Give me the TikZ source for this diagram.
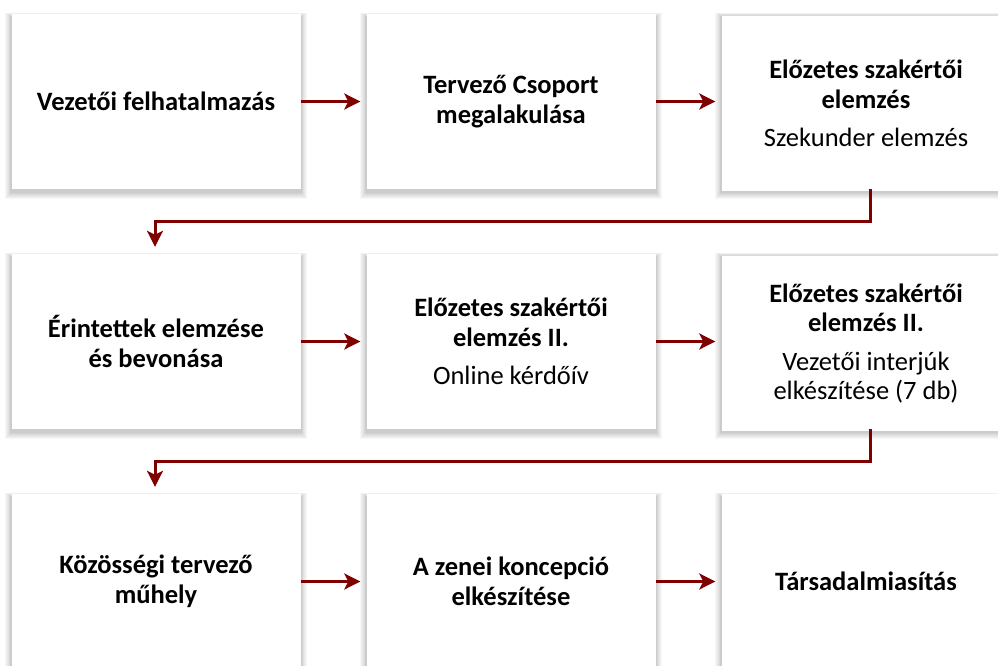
\documentclass[tikz,border=0pt]{standalone}
\usepackage{fontspec}
\setmainfont{Carlito}
\usetikzlibrary{arrows.meta}
\definecolor{arrowred}{RGB}{128,0,0}
\tikzset{
  x=1pt, y=-1pt,
  boxstyle/.style={minimum width=289pt, minimum height=175pt, fill=white, align=flush center,
    text width=280pt, font=\fontsize{26.5}{29.5}\selectfont, inner sep=0pt},
  flow/.style={draw=arrowred, line width=3pt, -{Stealth[length=16pt,width=16pt,inset=4pt]}},
}
\newcommand{\shadowbox}[1]{%
  \foreach \k in {1,...,7}{
    \fill[black, opacity=0.03] ([xshift={-\k*0.9pt}, yshift={\k*0.6pt-3pt}]#1.north west) rectangle ([xshift={\k*0.9pt}, yshift={-3pt-\k*0.9pt}]#1.south east);
  }
}
\begin{document}
\begin{tikzpicture}
\useasboundingbox (0,0) rectangle (998,666);
\clip (0,0) rectangle (998,666);
\path
  (156,101.5) coordinate (c1)
  (511,101.5) coordinate (c2)
  (866,101.5) coordinate (c3)
  (156,341.5) coordinate (c4)
  (511,341.5) coordinate (c5)
  (866,341.5) coordinate (c6)
  (156,581.5) coordinate (c7)
  (511,581.5) coordinate (c8)
  (866,581.5) coordinate (c9);
\foreach \i in {1,...,9}{
  \path (c\i) node[boxstyle, fill=none] (s\i) {};
  \shadowbox{s\i}
}
\node[boxstyle] (b1) at (c1) {\textbf{Vezetői felhatalmazás}};
\node[boxstyle] (b2) at (c2) {\textbf{Tervező Csoport}\\\textbf{megalakulása}};
\node[boxstyle] (b3) at ([yshift=-2pt]c3) {\textbf{Előzetes szakértői}\\\textbf{elemzés}\\[9pt]Szekunder elemzés};
\node[boxstyle] (b4) at (c4) {\textbf{Érintettek elemzése}\\\textbf{és bevonása}};
\node[boxstyle] (b5) at (c5) {\textbf{Előzetes szakértői}\\\textbf{elemzés II.}\\[9pt]Online kérdőív};
\node[boxstyle] (b6) at ([yshift=-2pt]c6) {\textbf{Előzetes szakértői}\\\textbf{elemzés II.}\\[9pt]Vezetői interjúk\\elkészítése (7 db)};
\node[boxstyle] (b7) at (c7) {\textbf{Közösségi tervező}\\\textbf{műhely}};
\node[boxstyle] (b8) at (c8) {\textbf{A zenei koncepció}\\\textbf{elkészítése}};
\node[boxstyle] (b9) at (c9) {\textbf{Társadalmiasítás}};
\draw[flow] (b1.east) -- ([xshift=-6pt]b2.west);
\draw[flow] (b2.east) -- ([xshift=-6pt]b3.west |- b2.east);
\draw[flow] (b4.east) -- ([xshift=-6pt]b5.west);
\draw[flow] (b5.east) -- ([xshift=-6pt]b6.west |- b5.east);
\draw[flow] (b7.east) -- ([xshift=-6pt]b8.west);
\draw[flow] (b8.east) -- ([xshift=-6pt]b9.west);
\draw[flow] (s3.south -| 870,0) |- (155,221) -- ([yshift=7pt]b4.north -| 155,0);
\draw[flow] (s6.south -| 870,0) |- (155,461) -- ([yshift=7pt]b7.north -| 155,0);
\end{tikzpicture}
\end{document}
